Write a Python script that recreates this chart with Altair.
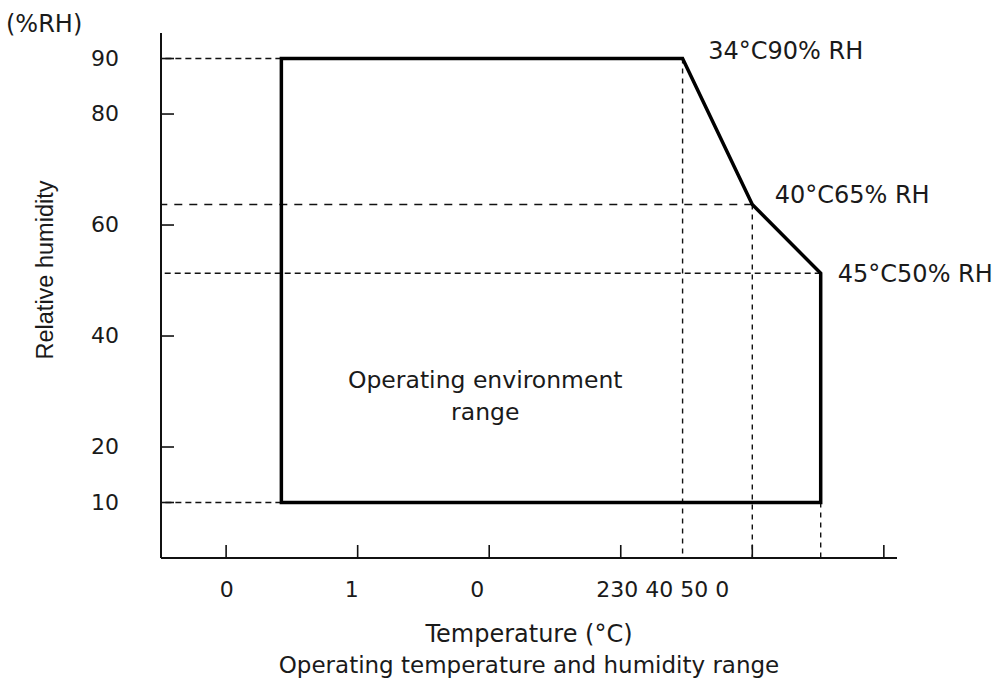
import altair as alt
import pandas as pd

# ---- data ----
temp_ticks = [0, 10, 20, 30, 40, 50]
rh_ticks = [10, 20, 40, 60, 80, 90]
rh_tick_labels = ["10", "20", "40", "60", "80", "90"]

# operating envelope vertices (temperature °C, %RH) as drawn
env_temp = [4.2, 34.7, 40.0, 45.2, 45.2, 4.2, 4.2]
env_rh = [90, 90, 63.7, 51.3, 10, 10, 90]

# dashed guide lines
guide_h_rh = [90, 51.3, 10]
guide_h_end = [4.2, 45.2, 4.2]
guide_h2_rh = [63.7]
guide_h2_end = [40.0]
guide_v_temp = [34.7, 40.0, 45.2]
guide_v_top = [90, 63.7, 10]

# x tick labels as printed
x_label_text = ["0", "1", "0", "230 40 50 0"]
x_label_pos = [0.05, 9.55, 19.1, 33.2]

# corner annotations
corner_text = ["34°C90% RH", "40°C65% RH", "45°C50% RH"]
corner_temp = [36.65, 41.7, 46.5]
corner_rh = [89.9, 64.0, 49.7]

# region label
region_text = ["Operating environment", "range"]
region_temp = [19.7, 19.7]
region_rh = [30.6, 24.9]

W, H = 736, 525
FONT = "DejaVu Sans"
TXT = "#1a1a1a"

xs = alt.Scale(domain=[-4.95, 51.0], nice=False, zero=False)
ys = alt.Scale(domain=[0, 94.6], nice=False, zero=False)


def X(f):
    return alt.X(f, type="quantitative", scale=xs, axis=None)


def Y(f):
    return alt.Y(f, type="quantitative", scale=ys, axis=None)


gh = pd.DataFrame({"rh": guide_h_rh, "end": guide_h_end})
gh2 = pd.DataFrame({"rh": guide_h2_rh, "end": guide_h2_end})
gv = pd.DataFrame({"t": guide_v_temp, "top": guide_v_top})
env = pd.DataFrame({"t": env_temp, "rh": env_rh, "i": list(range(len(env_temp)))})
xt = pd.DataFrame({"t": temp_ticks})
yt = pd.DataFrame({"rh": rh_ticks, "lab": rh_tick_labels})
xl = pd.DataFrame({"t": x_label_pos, "lab": x_label_text})
cl = pd.DataFrame({"t": corner_temp, "rh": corner_rh, "lab": corner_text})
rl = pd.DataFrame({"t": region_temp, "rh": region_rh, "lab": region_text})

h_short = alt.Chart(gh).mark_rule(color="#111", strokeWidth=1.4, strokeDash=[6, 4]).encode(
    x=X("end"), x2=alt.value(0), y=Y("rh"))
h_long = alt.Chart(gh2).mark_rule(color="#111", strokeWidth=1.4, strokeDash=[8, 7]).encode(
    x=X("end"), x2=alt.value(0), y=Y("rh"))
v_lines = alt.Chart(gv).mark_rule(color="#111", strokeWidth=1.4, strokeDash=[5, 5]).encode(
    x=X("t"), y=Y("top"), y2=alt.value(H))

envelope = alt.Chart(env).mark_line(color="#000", strokeWidth=3.5, strokeJoin="miter",
                                    strokeCap="square").encode(
    x=X("t"), y=Y("rh"), order=alt.Order("i:Q"))

y_axis = alt.Chart(xt).mark_rule(color="#111", strokeWidth=2).encode(
    x=alt.value(0), y=alt.value(0), y2=alt.value(H))
x_axis = alt.Chart(xt).mark_rule(color="#111", strokeWidth=2).encode(
    x=alt.value(0), x2=alt.value(W), y=alt.value(H))
x_ticks = alt.Chart(xt).mark_rule(color="#111", strokeWidth=1.6).encode(
    x=X("t"), y=alt.value(H), y2=alt.value(H - 13))
y_ticks = alt.Chart(yt).mark_rule(color="#111", strokeWidth=1.6).encode(
    y=Y("rh"), x=alt.value(0), x2=alt.value(13))

y_labels = alt.Chart(yt).mark_text(font=FONT, fontSize=22, color=TXT, align="right",
                                   baseline="middle").encode(
    x=alt.value(-42), y=Y("rh"), text="lab:N")
x_labels = alt.Chart(xl).mark_text(font=FONT, fontSize=22, color=TXT, align="center",
                                   baseline="alphabetic").encode(
    x=X("t"), y=alt.value(H + 39), text="lab:N")

corner = alt.Chart(cl).mark_text(font=FONT, fontSize=24, color=TXT, align="left",
                                 baseline="alphabetic").encode(
    x=X("t"), y=Y("rh"), text="lab:N")
region = alt.Chart(rl).mark_text(font=FONT, fontSize=23.5, color=TXT, align="center",
                                 baseline="alphabetic").encode(
    x=X("t"), y=Y("rh"), text="lab:N")

title_text = ["Temperature (°C)", "Operating temperature and humidity range"]
t1 = alt.Chart(pd.DataFrame({"lab": [title_text[0]]})).mark_text(
    font=FONT, fontSize=24, color=TXT, align="center", baseline="alphabetic").encode(
    x=alt.value(W / 2), y=alt.value(642 - 33), text="lab:N")
t2 = alt.Chart(pd.DataFrame({"lab": [title_text[1]]})).mark_text(
    font=FONT, fontSize=23, color=TXT, align="center", baseline="alphabetic").encode(
    x=alt.value(W / 2), y=alt.value(673 - 33), text="lab:N")
unit = alt.Chart(pd.DataFrame({"lab": ["(%RH)"]})).mark_text(
    font=FONT, fontSize=24, color=TXT, align="left", baseline="alphabetic").encode(
    x=alt.value(6 - 161), y=alt.value(32 - 33), text="lab:N")
ytitle = alt.Chart(pd.DataFrame({"lab": ["Relative humidity"]})).mark_text(
    font="Liberation Sans", fontSize=23.5, color=TXT, align="center", baseline="alphabetic",
    angle=270).encode(
    x=alt.value(53 - 161), y=alt.value(270 - 33), text="lab:N")

chart = alt.layer(
    h_short, h_long, v_lines, envelope, y_axis, x_axis, x_ticks, y_ticks,
    y_labels, x_labels, corner, region, t1, t2, unit, ytitle
).properties(
    width=W, height=H,
    autosize=alt.AutoSizeParams(type="none"),
    padding={"left": 161, "top": 33, "right": 1001 - 161 - W, "bottom": 682 - 33 - H},
    background="white",
).configure_view(stroke=None)

chart.save("out.html", embed_options={"renderer": "svg", "actions": False})
